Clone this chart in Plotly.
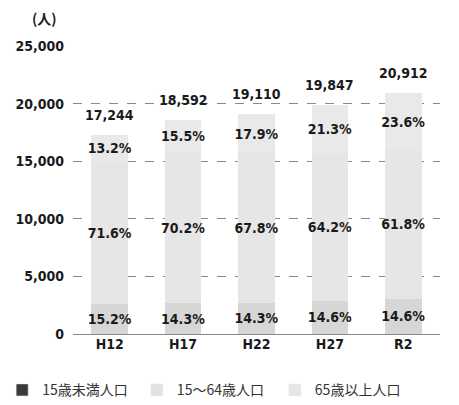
import plotly.graph_objects as go

# data
years = ['H12', 'H17', 'H22', 'H27', 'R2']
totals = [17244, 18592, 19110, 19847, 20912]
pct_under15 = [15.2, 14.3, 14.3, 14.6, 14.6]
pct_15_64 = [71.6, 70.2, 67.8, 64.2, 61.8]
pct_65over = [13.2, 15.5, 17.9, 21.3, 23.6]
series_names = ['15歳未満人口', '15～64歳人口', '65歳以上人口']
tick_vals = [0, 5000, 10000, 15000, 20000, 25000]

num_font = 'DejaVu Sans Condensed, Liberation Sans Narrow, Arial Narrow, sans-serif'
jp_font = 'Noto Sans CJK JP, sans-serif'

bar_colors = ['#d6d6d6', '#e6e6e6', '#e9e9e9']
legend_colors = ['#3a3a3a', '#e2e2e2', '#e6e6e6']

fig = go.Figure()

for name, pcts, col in zip(series_names, [pct_under15, pct_15_64, pct_65over], bar_colors):
    vals = [t * p / 100 for t, p in zip(totals, pcts)]
    fig.add_trace(go.Bar(
        x=years, y=vals, name=name, showlegend=False,
        marker=dict(color=col, line=dict(width=0)),
        text=[f'{p:.1f}%' for p in pcts],
        textposition='inside', insidetextanchor='middle',
        textangle=0, constraintext='none',
        textfont=dict(family=num_font, size=14, color='#1a1a1a', weight='bold'),
        hoverinfo='skip',
    ))

# totals above the bars
total_notes = [dict(x=yr, y=t, text=f'{t:,}', showarrow=False, yanchor='bottom', yshift=10,
                    font=dict(family=num_font, size=14, color='#1a1a1a', weight='bold'))
               for yr, t in zip(years, totals)]

# legend entries, one legend each so they sit on one line
legend_x = [-0.193, 0.174, 0.55]
layout_legends = {}
for i, (name, col, lx) in enumerate(zip(series_names, legend_colors, legend_x)):
    key = 'legend' if i == 0 else f'legend{i + 1}'
    fig.add_trace(go.Bar(x=[None], y=[None], name=name, marker=dict(color=col), legend=key))
    layout_legends[key] = dict(x=lx, xanchor='left', y=-0.14, yanchor='top',
                               font=dict(family=jp_font, size=14, color='#333'),
                               itemwidth=30, bgcolor='rgba(0,0,0,0)')

# page body has an 8px margin, so the figure is a bit smaller than the window
fig.update_layout(
    width=451, height=397,
    margin=dict(l=65, r=19, t=38, b=71, autoexpand=False),
    barmode='stack', bargap=0.5,
    plot_bgcolor='white', paper_bgcolor='white',
    annotations=total_notes + [
        dict(text='(人)', xref='paper', yref='paper', x=-0.117, y=1.097,
             xanchor='left', yanchor='middle', showarrow=False,
             font=dict(family=jp_font, size=14, color='#222', weight='bold'))],
    **layout_legends,
)
fig.update_xaxes(showline=False, showgrid=False, ticks='', automargin=False,
                 tickfont=dict(family=num_font, size=14, color='#1a1a1a', weight='bold'))
fig.update_yaxes(range=[0, 25000], tickvals=tick_vals, tickformat=',', automargin=False,
                 showgrid=True, gridcolor='#8a8a8a', griddash='dash', gridwidth=1,
                 zeroline=True, zerolinecolor='#8a8a8a', zerolinewidth=1,
                 ticks='', ticklabelstandoff=8,
                 tickfont=dict(family=num_font, size=14, color='#1a1a1a', weight='bold'))

fig.write_html('out.html')
